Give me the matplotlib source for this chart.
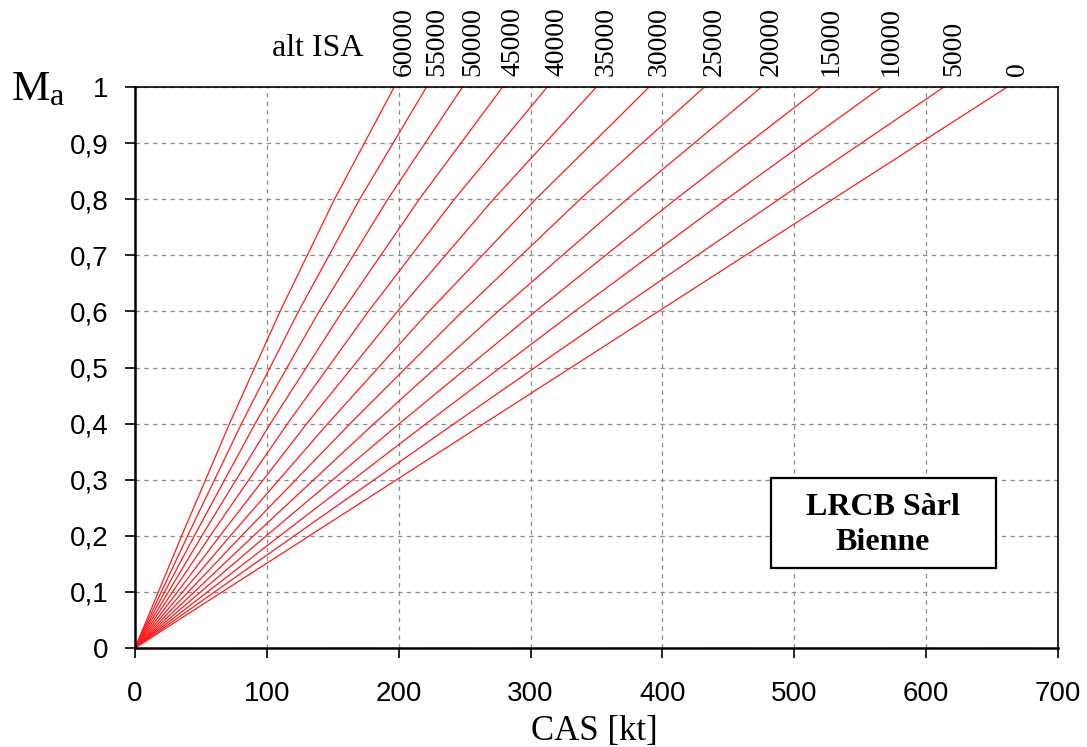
import matplotlib
matplotlib.use("Agg")
import matplotlib.pyplot as plt
from matplotlib.patches import Rectangle

# Mach grid and CAS [kt]
mach = [0, 0.2, 0.4, 0.6, 0.8, 1.0]
altitudes = ["0", "5000", "10000", "15000", "20000", "25000", "30000",
             "35000", "40000", "45000", "50000", "55000", "60000"]
cas_0 = [0, 132.3, 264.6, 396.9, 529.2, 661.5]
cas_5000 = [0, 120.8, 242.1, 364.6, 488.3, 613.5]
cas_10000 = [0, 109.9, 220.8, 333.5, 448.6, 566.3]
cas_15000 = [0, 99.6, 200.5, 303.7, 410.1, 520.2]
cas_20000 = [0, 89.9, 181.3, 275.3, 373.1, 475.2]
cas_25000 = [0, 80.8, 163.2, 248.4, 337.6, 431.8]
cas_30000 = [0, 72.3, 146.2, 223.0, 303.9, 390.0]
cas_35000 = [0, 64.4, 130.3, 199.0, 271.9, 350.0]
cas_40000 = [0, 57.1, 115.7, 177.0, 242.2, 312.6]
cas_45000 = [0, 50.7, 102.7, 157.2, 215.6, 278.8]
cas_50000 = [0, 45.0, 91.1, 139.6, 191.7, 248.4]
cas_55000 = [0, 39.9, 80.8, 124.0, 170.4, 221.1]
cas_60000 = [0, 35.4, 71.7, 110.0, 151.3, 196.6]
curves = [cas_0, cas_5000, cas_10000, cas_15000, cas_20000, cas_25000, cas_30000,
          cas_35000, cas_40000, cas_45000, cas_50000, cas_55000, cas_60000]

x_ticks = [0, 100, 200, 300, 400, 500, 600, 700]
y_ticks = [0, 0.1, 0.2, 0.3, 0.4, 0.5, 0.6, 0.7, 0.8, 0.9, 1.0]
y_labels = ["0", "0,1", "0,2", "0,3", "0,4", "0,5", "0,6", "0,7", "0,8", "0,9", "1"]

serif = "Liberation Serif"
sans = "Liberation Sans"

fig = plt.figure(figsize=(10.87, 7.47), dpi=100)
ax = fig.add_axes([135 / 1087, 1 - 648 / 747, 923 / 1087, 561 / 747])

for cas in curves:
    ax.plot(cas, mach, color="#ff1a1a", lw=0.9)

ax.set_xlim(0, 700)
ax.set_ylim(0, 1)
ax.set_xticks(x_ticks)
ax.set_xticklabels([str(v) for v in x_ticks], family=sans, fontsize=20)
ax.set_yticks(y_ticks)
ax.set_yticklabels(y_labels, family=sans, fontsize=20)
ax.tick_params(direction="out", length=7, width=1.2, color="black")
ax.tick_params(axis="y", pad=12)
ax.tick_params(axis="x", pad=17)

ax.grid(True, color="#8c8c8c", ls=(0, (3.5, 3.5)), lw=0.9)
for side in ["left", "bottom"]:
    ax.spines[side].set_linewidth(1.8)
for side in ["top", "right"]:
    ax.spines[side].set_linewidth(1.2)

# altitude labels just right of the end of each curve
for name, cas in zip(altitudes, curves):
    ax.text(cas[-1] + 7.5, 1.02, name, rotation=90, ha="center", va="bottom",
            family=serif, fontsize=20)

fig.text(318 / 1087, 1 - 56 / 747, "alt ISA", ha="center", va="baseline",
         family=serif, fontsize=23)
fig.text(12 / 1087, 1 - 100 / 747, "M", ha="left", va="baseline",
         family=serif, fontsize=31)
fig.text(50 / 1087, 1 - 105 / 747, "a", ha="left", va="baseline",
         family=serif, fontsize=23)
fig.text(594 / 1087, 1 - 740 / 747, "CAS [kt]", ha="center", va="baseline",
         family=serif, fontsize=25)

# company box
ax.add_patch(Rectangle((482.3, 0.1426), 170.7, 0.1604, facecolor="white",
                       edgecolor="black", lw=1.6, zorder=5))
ax.text(567, 0.219, "LRCB Sàrl\nBienne", ha="center", va="center",
        family=serif, fontsize=23, fontweight="bold", linespacing=1.25, zorder=6)

fig.savefig("out.png", dpi=100)
